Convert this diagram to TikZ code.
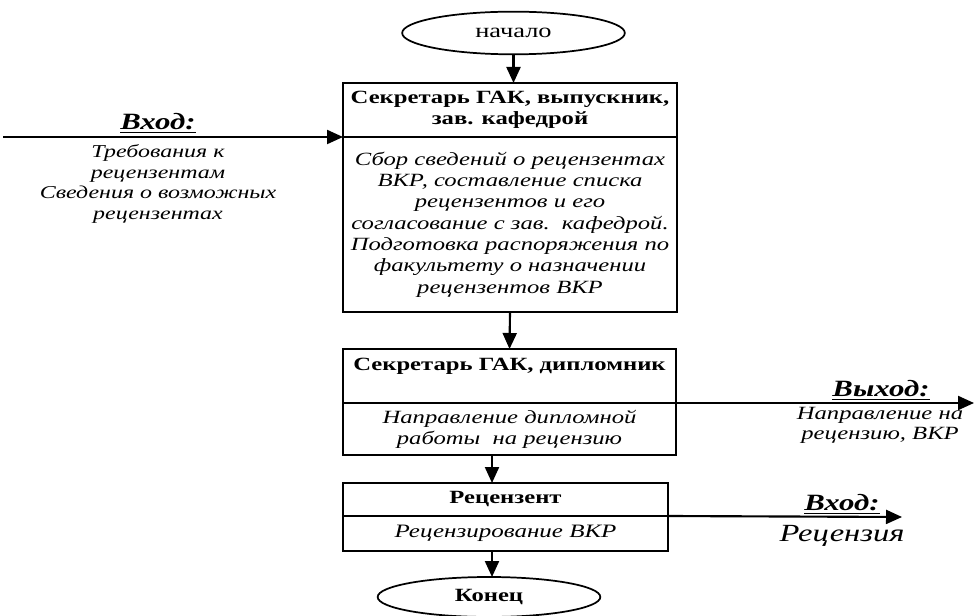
\documentclass[tikz,border=0pt]{standalone}
\usepackage{fontspec}
\setmainfont{Liberation Serif}[FakeStretch=1.32]
\usetikzlibrary{arrows.meta,shapes.geometric}
\begin{document}
\begin{tikzpicture}[x=0.75pt,y=-0.75pt,
  every node/.style={inner sep=0pt,outer sep=0pt},
  txt/.style={font=\fontsize{14pt}{15.75pt}\selectfont,align=center},
  ttl/.style={txt,font=\fontsize{14pt}{15.75pt}\selectfont\bfseries},
  box/.style={draw,line width=1.5pt,rectangle,align=center},
  term/.style={draw,line width=1.3pt,ellipse,minimum width=167pt,align=center},
  flow/.style={line width=1.6pt,-{Triangle[length=12pt,width=10.5pt]}},
  lbl/.style={font=\fontsize{17.5pt}{19pt}\selectfont\bfseries\itshape}
]
\useasboundingbox (0,0) rectangle (974,616);

% terminals
\node[term,minimum height=32pt,font=\fontsize{15pt}{16pt}\selectfont] (s) at (513.5,33) {начало};
\node[term,minimum height=30pt,font=\fontsize{14pt}{15.75pt}\selectfont\bfseries] (e) at (489,597) {Конец};

% box 1
\node[box,ttl,minimum width=250.5pt,minimum height=40.5pt] (b1t) at (510,110)
  {Секретарь ГАК, выпускник,\\зав. кафедрой};
\node[box,txt,font=\fontsize{14pt}{16pt}\selectfont\itshape,minimum width=250.5pt,minimum height=131.25pt] (b1b) at (510,224.5)
  {Сбор сведений о рецензентах\\ВКР, составление списка\\рецензентов и его\\согласование с зав.~~кафедрой.\\Подготовка распоряжения по\\факультету о назначении\\рецензентов ВКР};

% box 2
\node[box,minimum width=249.75pt,minimum height=40.5pt] (b2t) at (509.5,376) {};
\node[ttl] (b2tt) at (509.5,366) {Секретарь ГАК, дипломник};
\node[box,txt,font=\fontsize{14pt}{15.75pt}\selectfont\itshape,minimum width=249.75pt,minimum height=39pt] (b2b) at (509.5,429)
  {Направление дипломной\\работы~~на рецензию};

% box 3
\node[box,ttl,minimum width=243.75pt,minimum height=24.75pt] (b3t) at (505.5,499.5)
  {Рецензент};
\node[box,txt,font=\fontsize{14.2pt}{15.75pt}\selectfont\itshape,minimum width=243.75pt,minimum height=26.25pt] (b3b) at (505.5,533.5)
  {Рецензирование ВКР};

% vertical flow
\draw[flow] (s.south) -- (s.south |- b1t.north);
\draw[flow] (b1b.south) -- (b2t.north);
\coordinate (c2) at (492,455);
\coordinate (c3) at (492,551);
\draw[flow] (c2) -- (c2 |- b3t.north);
\draw[flow] (c3) -- (c3 |- e.north);

% input left
\coordinate (in1) at (3,137);
\draw[flow] (in1) -- (b1t.south west);
\node[lbl] (inl) at (158,123) {\underline{Вход:}};
\node[txt,font=\fontsize{13.6pt}{15.5pt}\selectfont\itshape] (intx) at (158,184)
  {Требования к\\рецензентам\\Сведения о возможных\\рецензентах};

% output from box 2
\coordinate (out1) at (974,403);
\draw[flow] (b2t.south east) -- (out1);
\node[lbl] (outl) at (881,390) {\underline{Выход:}};
\node[txt,font=\fontsize{14pt}{15pt}\selectfont\itshape] (outtx) at (880,425)
  {Направление на\\рецензию, ВКР};

% output from box 3
\coordinate (out2) at (902,517);
\draw[flow] (b3t.south east) -- (out2);
\node[lbl] (in2l) at (842,504) {\underline{Вход:}};
\node[font=\fontsize{18.5pt}{20pt}\selectfont\itshape] (in2tx) at (842,536) {Рецензия};
\end{tikzpicture}
\end{document}
